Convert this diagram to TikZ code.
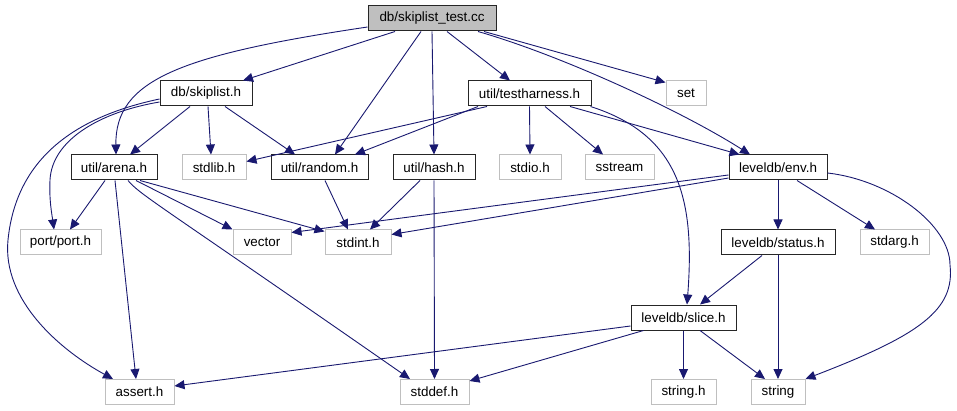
\documentclass[tikz,border=0pt]{standalone}
\usepackage{fontspec}
\setmainfont{Liberation Sans}
\usetikzlibrary{arrows.meta}
\definecolor{edgeblue}{HTML}{191970}
\definecolor{boxgrey}{HTML}{BFBFBF}
\tikzset{
  filebox/.style={rectangle, inner sep=0pt, minimum height=25pt, font=\fontsize{13.4}{15}\selectfont, fill=white},
  proj/.style={filebox, draw=black!85, line width=1pt},
  sys/.style={filebox, draw=boxgrey, line width=1pt},
  topfile/.style={filebox, draw=black!85, line width=1pt, fill=boxgrey},
  dep/.style={draw=edgeblue, line width=0.9pt, -{Triangle[length=10pt,width=9pt]}, fill=none}
}
\begin{document}
\begin{tikzpicture}[x=1pt,y=-1pt]
\useasboundingbox[fill=white] (0,0) rectangle (957,411);
% nodes
\node[topfile, minimum width=128pt] (test) at (432,18.5) {db/skiplist\_test.cc};
\node[proj, minimum width=92pt] (skiplist) at (206,93.5) {db/skiplist.h};
\node[proj, minimum width=123pt] (harness) at (529.5,93.5) {util/testharness.h};
\node[sys, minimum width=40pt] (set) at (686,93.5) {set};
\node[proj, minimum width=86pt] (arena) at (114,167.5) {util/arena.h};
\node[sys, minimum width=64pt] (stdlib) at (214,167.5) {stdlib.h};
\node[proj, minimum width=97pt] (random) at (319.5,167.5) {util/random.h};
\node[proj, minimum width=82pt] (hash) at (434,167.5) {util/hash.h};
\node[sys, minimum width=62pt] (stdio) at (530,167.5) {stdio.h};
\node[sys, minimum width=69pt] (sstream) at (619.5,167.5) {sstream};
\node[proj, minimum width=98pt] (env) at (778,167.5) {leveldb/env.h};
\node[sys, minimum width=81pt] (port) at (60.5,242.5) {port/port.h};
\node[sys, minimum width=58pt] (vector) at (262,242.5) {vector};
\node[sys, minimum width=66pt] (stdint) at (358,242.5) {stdint.h};
\node[proj, minimum width=114pt] (status) at (778,242.5) {leveldb/status.h};
\node[sys, minimum width=69pt] (stdarg) at (894.5,242.5) {stdarg.h};
\node[proj, minimum width=105pt] (slice) at (683.5,317.5) {leveldb/slice.h};
\node[sys, minimum width=69pt] (assert) at (139.5,392) {assert.h};
\node[sys, minimum width=69pt] (stddef) at (434.5,392) {stddef.h};
\node[sys, minimum width=65pt] (stringh) at (683.5,392) {string.h};
\node[sys, minimum width=54pt] (string) at (778,392) {string};
% edges from db/skiplist_test.cc
\draw[dep] ([yshift=-8.5pt]test.west) .. controls (180,55) and (115,80) .. ([xshift=2pt]arena.north);
\draw[dep] ([xshift=-37pt]test.south) -- ([xshift=37pt]skiplist.north);
\draw[dep] ([xshift=-11pt]test.south) -- ([xshift=15.5pt]random.north);
\draw[dep] (test.south) -- (hash.north);
\draw[dep] ([xshift=15pt]test.south) -- ([xshift=-19.5pt]harness.north);
\draw[dep] ([xshift=52pt]test.south) -- ([yshift=-2pt]set.north west);
\draw[dep] ([xshift=46pt]test.south) .. controls (560,55) and (680,110) .. ([xshift=-28pt]env.north);
% edges from db/skiplist.h
\draw[dep] ([xshift=-16pt]skiplist.south) -- ([xshift=16pt]arena.north);
\draw[dep] ([xshift=2pt]skiplist.south) -- ([xshift=-3pt]stdlib.north);
\draw[dep] ([xshift=19pt]skiplist.south) -- ([xshift=-24.5pt]random.north);
\draw[dep] ([yshift=-8.5pt]skiplist.west) .. controls (100,112) and (52,140) .. (50,180) .. controls (49,200) and (52,215) .. ([xshift=-6.5pt]port.north);
\draw[dep] ([yshift=-5.5pt]skiplist.west) .. controls (60,120) and (15,170) .. (8,240) .. controls (2,300) and (60,350) .. ([xshift=-26.5pt]assert.north);
% edges from util/testharness.h
\draw[dep] ([xshift=-42.5pt]harness.south) -- ([yshift=6pt]stdlib.east);
\draw[dep] ([xshift=-51.5pt]harness.south) -- ([xshift=35.5pt]random.north);
\draw[dep] (harness.south) -- (stdio.north);
\draw[dep] ([xshift=15.5pt]harness.south) -- ([xshift=-16.5pt]sstream.north);
\draw[dep] ([xshift=40.5pt]harness.south) -- ([xshift=11pt]env.north west);
\draw[dep] ([xshift=-1pt]harness.south east) .. controls (680,135) and (695,200) .. ([xshift=3.5pt]slice.north);
% edges from util/arena.h
\draw[dep] ([xshift=-9pt]arena.south) -- ([xshift=9.5pt]port.north);
\draw[dep] ([xshift=1pt]arena.south) -- ([xshift=-3.5pt]assert.north);
\draw[dep] ([xshift=22pt]arena.south) -- (vector.north west);
\draw[dep] ([xshift=26pt]arena.south) -- ([yshift=-2pt]stdint.north west);
\draw[dep] ([xshift=14pt]arena.south) .. controls (140,195) and (160,205) .. ([xshift=-24.5pt]stddef.north);
% edges from util/random.h and util/hash.h
\draw[dep] ([xshift=5.5pt]random.south) -- ([xshift=-10pt]stdint.north);
\draw[dep] ([xshift=-14pt]hash.south) -- ([xshift=12pt]stdint.north);
\draw[dep] (hash.south) -- (stddef.north);
% edges from leveldb/env.h
\draw[dep] ([yshift=-7.5pt]env.west) -- ([yshift=-3pt]vector.north east);
\draw[dep] ([yshift=-10.5pt]env.west) -- ([yshift=-5pt]stdint.north east);
\draw[dep] (env.south) -- (status.north);
\draw[dep] ([xshift=19pt]env.south) -- ([xshift=-19.5pt]stdarg.north);
\draw[dep] ([yshift=-5.5pt]env.east) .. controls (890,180) and (950,225) .. (950,265) .. controls (955,310) and (920,335) .. (string.north east);
% edges from leveldb/status.h
\draw[dep] ([xshift=-16pt]status.south) -- ([xshift=16.5pt]slice.north);
\draw[dep] (status.south) -- (string.north);
% edges from leveldb/slice.h
\draw[dep] ([yshift=-8.5pt]slice.west) -- ([yshift=6pt]assert.east);
\draw[dep] ([xshift=13pt]slice.south west) -- ([yshift=-2pt]stddef.north east);
\draw[dep] (slice.south) -- (stringh.north);
\draw[dep] ([xshift=16.5pt]slice.south) -- ([xshift=-13pt]string.north);
\end{tikzpicture}
\end{document}
